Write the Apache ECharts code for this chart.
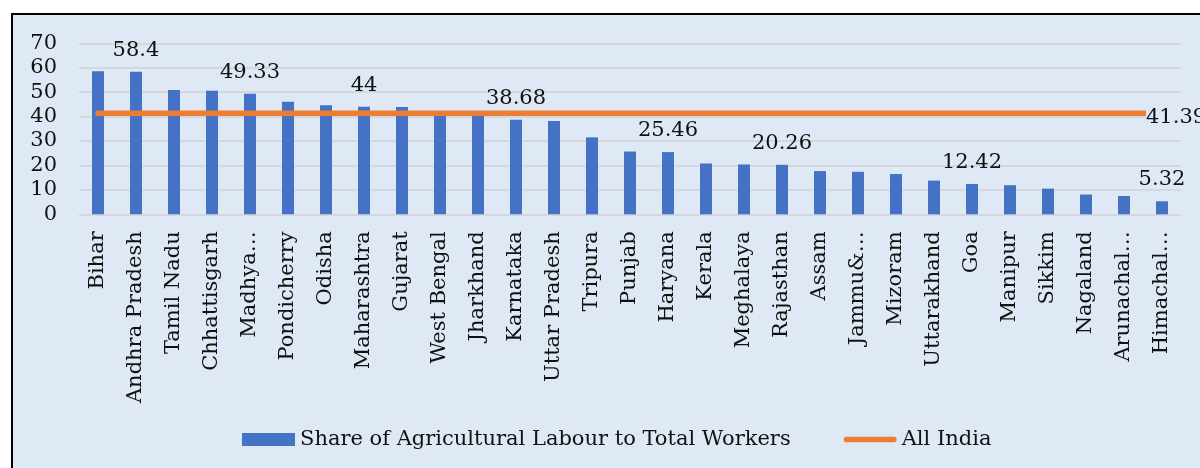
<!DOCTYPE html>
<html>
<head>
<meta charset="utf-8">
<title>Share of Agricultural Labour to Total Workers</title>
<script src="https://cdn.jsdelivr.net/npm/echarts@6/dist/echarts.min.js"></script>
<style>
  html, body { margin: 0; padding: 0; background: #ffffff; }
  body { width: 1200px; height: 468px; position: relative; overflow: hidden; }
  #frame {
    position: absolute; left: 11px; top: 13px;
    width: 1300px; height: 600px;
    background: #dee9f5;
    border-left: 2px solid #000; border-top: 2px solid #000;
  }
  #chart { position: absolute; left: 0; top: 0; width: 1200px; height: 468px; }
</style>
</head>
<body>
<div id="frame"></div>
<div id="chart"></div>
<script>
// States, in the order shown on the category axis
const states = [
  'Bihar', 'Andhra Pradesh', 'Tamil Nadu', 'Chhattisgarh', 'Madhya…',
  'Pondicherry', 'Odisha', 'Maharashtra', 'Gujarat', 'West Bengal',
  'Jharkhand', 'Karnataka', 'Uttar Pradesh', 'Tripura', 'Punjab',
  'Haryana', 'Kerala', 'Meghalaya', 'Rajasthan', 'Assam',
  'Jammu&…', 'Mizoram', 'Uttarakhand', 'Goa', 'Manipur',
  'Sikkim', 'Nagaland', 'Arunachal…', 'Himachal…'
];

// Share of agricultural labour to total workers (%)
const shareValues = [
  58.6, 58.4, 50.9, 50.6, 49.33,
  46.1, 44.6, 44, 43.9, 40.4,
  40.3, 38.68, 38.2, 31.5, 25.7,
  25.46, 20.8, 20.4, 20.26, 17.7,
  17.4, 16.5, 13.8, 12.42, 11.9,
  10.5, 8.1, 7.5, 5.32
];

// All India average, repeated for each state
const allIndiaValues = [
  41.39, 41.39, 41.39, 41.39, 41.39, 41.39, 41.39, 41.39, 41.39, 41.39,
  41.39, 41.39, 41.39, 41.39, 41.39, 41.39, 41.39, 41.39, 41.39, 41.39,
  41.39, 41.39, 41.39, 41.39, 41.39, 41.39, 41.39, 41.39, 41.39
];

// Bars that carry a value label
const labelledStates = ['Andhra Pradesh', 'Madhya…', 'Maharashtra', 'Karnataka',
  'Haryana', 'Rajasthan', 'Goa', 'Himachal…'];

const yTicks = { min: 0, max: 70, interval: 10 };

const FONT = 'DejaVu Serif';
const TEXT = '#111111';
const PLOT_BG = '#dee9f5';

const barData = shareValues.map((v, i) => ({
  value: v,
  label: { show: labelledStates.includes(states[i]) }
}));

const chart = echarts.init(document.getElementById('chart'), null, { renderer: 'canvas' });

chart.setOption({
  backgroundColor: 'transparent',
  animation: false,
  textStyle: { fontFamily: FONT, color: TEXT },
  grid: { left: 79, right: 19, top: 43.3, bottom: 253.7, containLabel: false },
  legend: {
    left: 242,
    top: 429,
    padding: 0,
    itemGap: 53,
    itemWidth: 53,
    itemHeight: 13,
    textStyle: { fontFamily: FONT, fontSize: 21, color: TEXT },
    data: [
      { name: 'Share of Agricultural Labour to Total Workers', icon: 'rect' },
      {
        name: 'All India',
        icon: 'path://M2.8,0 H53.2 A2.8,2.8 0 0 1 53.2,5.6 H2.8 A2.8,2.8 0 0 1 2.8,0 Z',
        itemStyle: { color: '#ed7d31' }
      }
    ]
  },
  xAxis: {
    type: 'category',
    data: states,
    axisLine: { show: false },
    axisTick: { show: false },
    axisLabel: {
      interval: 0,
      rotate: 90,
      margin: 17,
      fontFamily: FONT,
      fontSize: 21,
      color: TEXT
    }
  },
  yAxis: {
    type: 'value',
    min: yTicks.min,
    max: yTicks.max,
    interval: yTicks.interval,
    axisLine: { show: false },
    axisTick: { show: false },
    axisLabel: { fontFamily: FONT, fontSize: 21, color: TEXT, margin: 22 },
    splitLine: { lineStyle: { color: '#d4d8dd', width: 2 } }
  },
  series: [
    {
      name: 'Share of Agricultural Labour to Total Workers',
      type: 'bar',
      data: barData,
      barWidth: 12,
      itemStyle: { color: '#4472c4' },
      label: {
        position: 'top',
        distance: 11,
        fontFamily: FONT,
        fontSize: 21,
        color: TEXT
      }
    },
    {
      name: 'All India',
      type: 'line',
      data: allIndiaValues,
      symbol: 'none',
      showSymbol: false,
      lineStyle: { color: '#ed7d31', width: 5.5, cap: 'round' },
      itemStyle: { color: '#ed7d31' },
      endLabel: {
        show: true,
        formatter: '{c}',
        distance: 0,
        offset: [-16, 4],
        backgroundColor: PLOT_BG,
        fontFamily: FONT,
        fontSize: 21,
        color: TEXT
      },
      z: 3
    }
  ]
});
</script>
</body>
</html>
